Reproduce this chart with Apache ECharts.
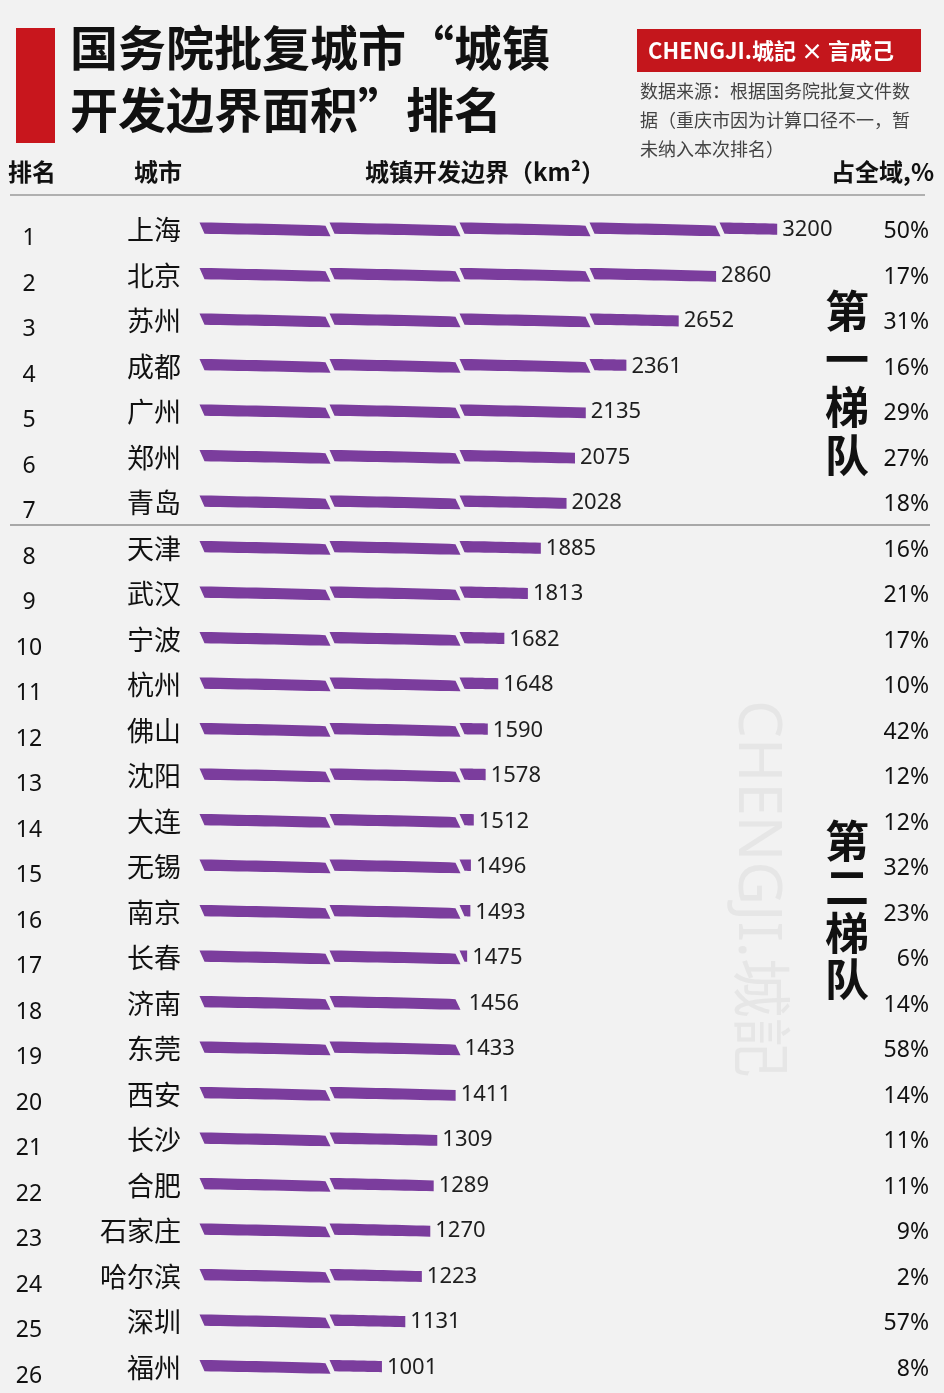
<!DOCTYPE html>
<html><head><meta charset="utf-8">
<script src="https://cdn.jsdelivr.net/npm/echarts@6/dist/echarts.min.js"></script>
<style>html,body{margin:0;padding:0;background:#f2f2f2;}#c{width:944px;height:1393px;}</style>
</head><body><div id="c"></div>
<script>
const cities = ['上海','北京','苏州','成都','广州','郑州','青岛','天津','武汉','宁波','杭州','佛山','沈阳','大连','无锡','南京','长春','济南','东莞','西安','长沙','合肥','石家庄','哈尔滨','深圳','福州'];
const areas = [3200,2860,2652,2361,2135,2075,2028,1885,1813,1682,1648,1590,1578,1512,1496,1493,1475,1456,1433,1411,1309,1289,1270,1223,1131,1001];
const shares = ['50%','17%','31%','16%','29%','27%','18%','16%','21%','17%','10%','42%','12%','12%','32%','23%','6%','14%','58%','14%','11%','11%','9%','2%','57%','8%'];
const ranks = cities.map((c,i)=>String(i+1));

const CJK = '"Noto Sans CJK SC","Noto Sans",sans-serif';
const NUM = '"Noto Sans","Noto Sans CJK SC",sans-serif';
const chart = echarts.init(document.getElementById('c'), null, {renderer:'canvas'});

function renderBar(params, api){
  const v = api.value(0), cat = api.value(1);
  const s = api.coord([0, cat]), e = api.coord([v, cat]);
  const y = s[1], h = 11, segW = 130, gap = 4, sl = 2.5;
  const children = [];
  let x = s[0];
  const style = {fill:'#7b3d9d'};
  while (x < e[0] - 2) {
    const x2 = Math.min(x + segW - gap, e[0]);
    const last = x2 >= e[0];
    const n = 14, top = [], bot = [];
    const off = t => -1.8 + 3.2*t*t + 0.6*Math.sin(Math.PI*t);
    for (let i=0;i<=n;i++){
      const px = x + (x2-x)*i/n;
      const t = (px - x)/(segW-gap);
      let tx = px, bx = px;
      if (i===0){ tx = px - sl; bx = px + sl; }
      if (i===n && !last){ tx = px - sl; bx = px + sl; }
      top.push([tx, y - h/2 + off(t)]);
      bot.push([bx, y + h/2 + off(t)*0.8]);
    }
    children.push({type:'polygon', shape:{points: top.concat(bot.reverse())}, style});
    x = x + segW;
  }
  children.push({type:'text', style:{x:e[0]+5, y:y, text:String(v), fill:'#1e1e1e', font:'22px '+NUM, verticalAlign:'middle', align:'left'}});
  return {type:'group', children};
}

const txt = (x,y,text,font,opt={}) => Object.assign({type:'text', x, y, style:Object.assign({text, font, fill:'#111'}, opt)});

chart.setOption({
  backgroundColor:'#f2f2f2',
  animation:false,
  grid:{left:202, right:23, top:207, bottom:3},
  xAxis:{type:'value', min:0, max:4000, show:false},
  yAxis:[
    {type:'category', data:cities, inverse:true, position:'left', axisLine:{show:false}, axisTick:{show:false},
     axisLabel:{margin:21, fontSize:27, color:'#111', fontFamily:CJK}},
    {type:'category', data:ranks, inverse:true, position:'left', axisLine:{show:false}, axisTick:{show:false},
     axisLabel:{margin:173, align:'center', verticalAlign:'top', lineHeight:18, fontSize:23, color:'#111', fontFamily:NUM}},
    {type:'category', data:shares, inverse:true, position:'right', axisLine:{show:false}, axisTick:{show:false},
     axisLabel:{margin:8, align:'right', verticalAlign:'top', lineHeight:4, fontSize:23, color:'#111', fontFamily:NUM}}
  ],
  series:[{type:'custom', yAxisIndex:0, renderItem:renderBar, clip:false,
    data: areas.map((v,i)=>[v,i])}],
  graphic:[
    {type:'text', z:-1, rotation:-Math.PI/2, position:[786,700],
     style:{text:'CHENGJI.城記', font:'normal 60px "Noto Sans","Noto Sans CJK SC"', fill:'#e6e6e6'}},
    {type:'rect', shape:{x:16,y:28,width:39,height:115}, style:{fill:'#c8161d'}},
    txt(70,48,'国务院批复城市“城镇','bold 48px '+CJK,{verticalAlign:'middle'}),
    txt(70,110,'开发边界面积”排名','bold 48px '+CJK,{verticalAlign:'middle'}),
    {type:'rect', shape:{x:637,y:29,width:284,height:43}, style:{fill:'#c4161c'}},
    txt(771,51,'CHENGJI.城記 × 言成己','bold 22px '+CJK,{fill:'#fff', align:'center', verticalAlign:'middle'}),
    txt(640,91,'数据来源：根据国务院批复文件数','18px '+CJK,{fill:'#444', verticalAlign:'middle'}),
    txt(640,120,'据（重庆市因为计算口径不一，暂','18px '+CJK,{fill:'#444', verticalAlign:'middle'}),
    txt(640,149,'未纳入本次排名）','18px '+CJK,{fill:'#444', verticalAlign:'middle'}),
    txt(8,172,'排名','bold 24px '+CJK,{verticalAlign:'middle'}),
    txt(158,172,'城市','bold 24px '+CJK,{verticalAlign:'middle', align:'center'}),
    txt(485,172,'城镇开发边界（km²）','bold 24px '+CJK,{verticalAlign:'middle', align:'center'}),
    txt(934,172,'占全域,%','bold 24px '+CJK,{verticalAlign:'middle', align:'right'}),
    {type:'line', shape:{x1:10,y1:195,x2:925,y2:195}, style:{stroke:'#9a9a9a', lineWidth:1.5}},
    {type:'line', shape:{x1:10,y1:525,x2:930,y2:525}, style:{stroke:'#a8a8a8', lineWidth:2}},
    txt(847,383,'第\n一\n梯\n队','bold 44px '+CJK,{align:'center', verticalAlign:'middle', lineHeight:48}),
    txt(847,910,'第\n二\n梯\n队','bold 44px '+CJK,{align:'center', verticalAlign:'middle', lineHeight:46})
  ]
});
</script></body></html>
